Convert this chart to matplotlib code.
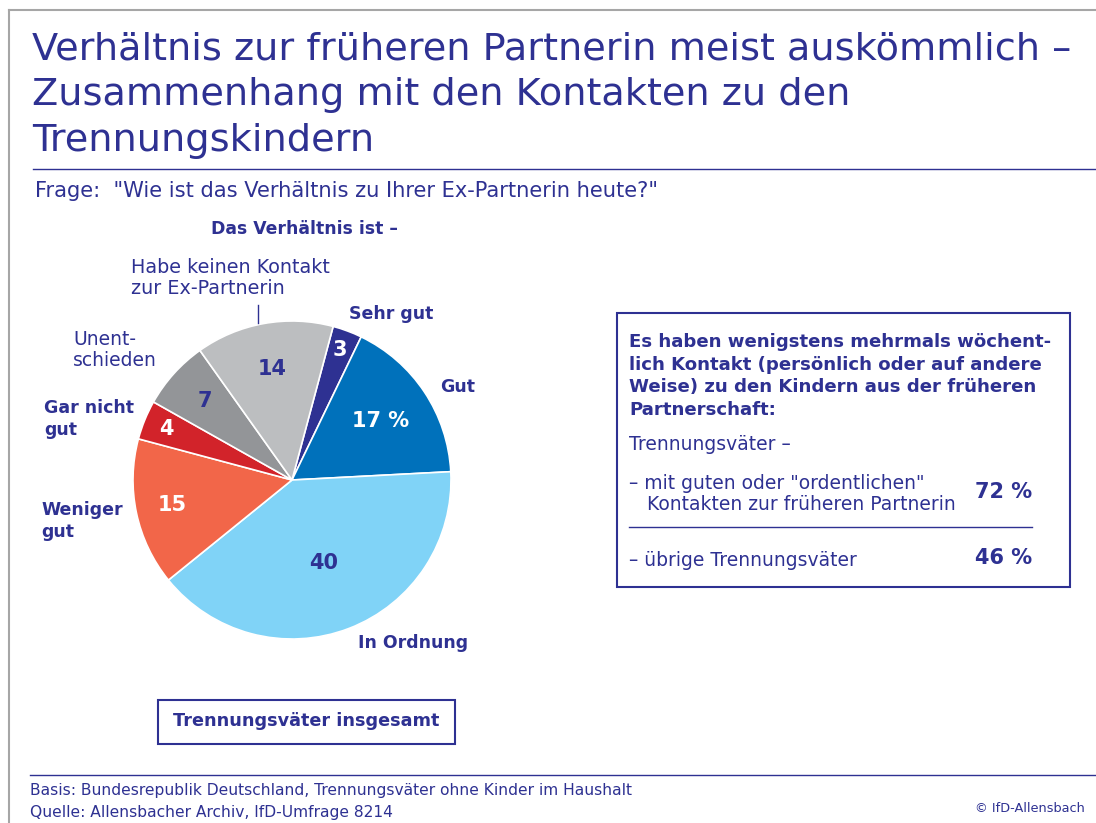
import numpy as np
import matplotlib.pyplot as plt
from matplotlib.lines import Line2D
from matplotlib.patches import Rectangle

plt.rcParams['font.family'] = ['DejaVu Sans']

# data
categories = ["Sehr gut", "Gut", "In Ordnung", "Weniger gut", "Gar nicht gut",
              "Unentschieden", "Habe keinen Kontakt zur Ex-Partnerin"]
values = [3, 17, 40, 15, 4, 7, 14]
value_labels = ["3", "17 %", "40", "15", "4", "7", "14"]
box_rows = ["– mit guten oder \"ordentlichen\"\n   Kontakten zur früheren Partnerin",
            "– übrige Trennungsväter"]
box_values = ["72 %", "46 %"]

# styles
navy = '#2e3192'
colors = ['#2e3192', '#0071bb', '#80d3f7', '#f26649', '#d2232a', '#939598', '#bcbec0']
label_colors = ['white', 'white', navy, 'white', 'white', navy, navy]
label_r = [0.87, 0.67, 0.56, 0.77, 0.85, 0.74, 0.71]

W, H = 1096, 823
fig = plt.figure(figsize=(W / 100, H / 100), dpi=100)


def fx(x):
    return x / W


def fy(y):
    return 1 - y / H


def hline(x0, x1, y, color=navy, lw=1.0):
    fig.add_artist(Line2D([fx(x0), fx(x1)], [fy(y), fy(y)], color=color, lw=lw))


# frame
fig.add_artist(Line2D([fx(9), 1], [fy(10), fy(10)], color='#a6a6a6', lw=1.5))
fig.add_artist(Line2D([fx(9), fx(9)], [fy(10), 0], color='#a6a6a6', lw=1.5))

# title
title_lines = ["Verhältnis zur früheren Partnerin meist auskömmlich –",
               "Zusammenhang mit den Kontakten zu den",
               "Trennungskindern"]
for t, yb in zip(title_lines, [60, 105, 151]):
    fig.text(fx(32), fy(yb), t, fontsize=27.5, color=navy, va='baseline')
hline(33, W, 169)

fig.text(fx(35), fy(197), 'Frage:  "Wie ist das Verhältnis zu Ihrer Ex-Partnerin heute?"',
         fontsize=15.1, color=navy, va='baseline')
fig.text(fx(304), fy(229), 'Das Verhältnis ist –', fontsize=12.4, fontweight='bold',
         color=navy, ha='center', va='center')

# pie
cx, cy, r = 292, 480, 159
ax = fig.add_axes([fx(cx - r), fy(cy + r), 2 * r / W, 2 * r / H])
wedges, _ = ax.pie(values, colors=colors, startangle=75, counterclock=False,
                   wedgeprops=dict(edgecolor='white', linewidth=1.2))
ax.set_xlim(-1, 1)
ax.set_ylim(-1, 1)
ax.axis('off')
for w, lab, c, rr in zip(wedges, value_labels, label_colors, label_r):
    ang = np.deg2rad((w.theta1 + w.theta2) / 2)
    ax.text(rr * np.cos(ang), rr * np.sin(ang), lab, color=c, fontsize=15,
            fontweight='bold', ha='center', va='center')

# outer labels
bold = dict(fontsize=12.5, fontweight='bold', color=navy, va='center')
fig.text(fx(349), fy(314), 'Sehr gut', **bold)
fig.text(fx(440), fy(387), 'Gut', **bold)
fig.text(fx(358), fy(643), 'In Ordnung', **bold)
fig.text(fx(41), fy(521), 'Weniger\ngut', linespacing=1.35, **bold)
fig.text(fx(44), fy(419), 'Gar nicht\ngut', linespacing=1.35, **bold)
fig.text(fx(73), fy(350), 'Unent-\nschieden', fontsize=13.5, color=navy, va='center',
         linespacing=1.1)
fig.text(fx(131), fy(278), 'Habe keinen Kontakt\nzur Ex-Partnerin', fontsize=13.8,
         color=navy, va='center', linespacing=1.1)
fig.add_artist(Line2D([fx(258), fx(258)], [fy(305), fy(323)], color=navy, lw=1))

# right box
fig.add_artist(Rectangle((fx(617), fy(587)), (1070 - 617) / W, (587 - 313) / H,
                         fill=False, edgecolor=navy, lw=1.5))
fig.text(fx(629), fy(376), "Es haben wenigstens mehrmals wöchent-\n"
         "lich Kontakt (persönlich oder auf andere\n"
         "Weise) zu den Kindern aus der früheren\n"
         "Partnerschaft:", fontsize=13.1, fontweight='bold', color=navy,
         va='center', linespacing=1.33)
fig.text(fx(629), fy(445), 'Trennungsväter –', fontsize=13.5, color=navy, va='center')
for lab, val, yc, yv in zip(box_rows, box_values, [494, 560], [492, 558]):
    fig.text(fx(629), fy(yc), lab, fontsize=13.5, color=navy, va='center', linespacing=1.1)
    fig.text(fx(1032), fy(yv), val, fontsize=15, fontweight='bold', color=navy,
             ha='right', va='center')
hline(629, 1032, 527)

# bottom box
fig.add_artist(Rectangle((fx(158), fy(744)), (455 - 158) / W, (744 - 700) / H,
                         fill=False, edgecolor=navy, lw=1.5))
fig.text(fx(306), fy(721), 'Trennungsväter insgesamt', fontsize=12.7, fontweight='bold',
         color=navy, ha='center', va='center')

# footer
hline(30, W, 775)
fig.text(fx(30), fy(790), 'Basis: Bundesrepublik Deutschland, Trennungsväter ohne Kinder im Haushalt',
         fontsize=11.2, color=navy, va='center')
fig.text(fx(30), fy(813), 'Quelle: Allensbacher Archiv, IfD-Umfrage 8214',
         fontsize=11.2, color=navy, va='center')
fig.text(fx(1085), fy(808), '© IfD-Allensbach', fontsize=9.3, color=navy,
         ha='right', va='center')

fig.savefig('out.png', dpi=100)
